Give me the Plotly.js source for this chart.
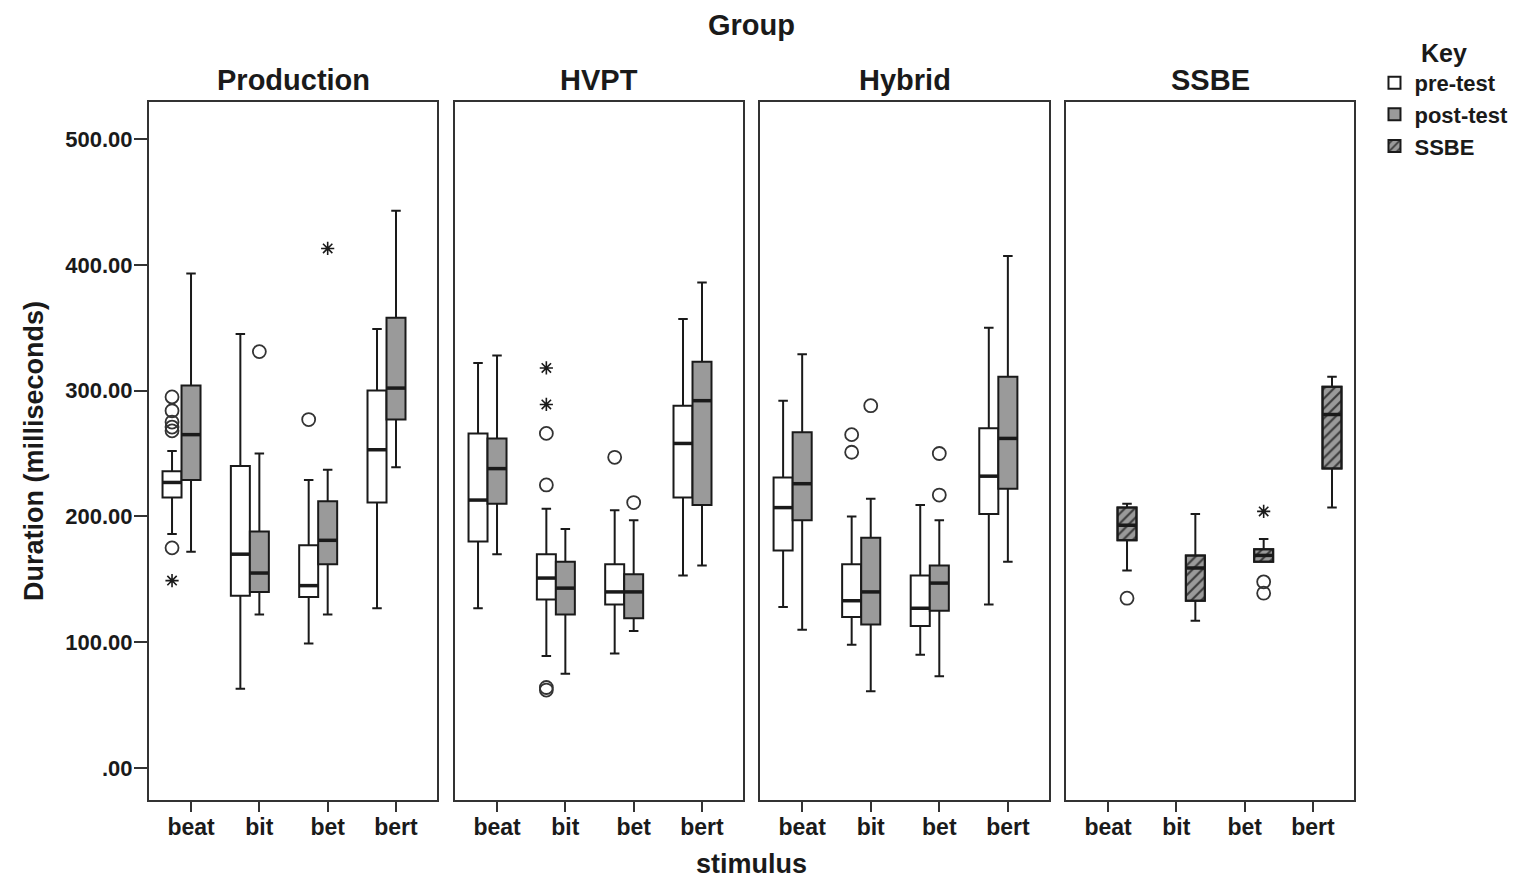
<!DOCTYPE html>
<html><head><meta charset="utf-8">
<script src="https://cdn.plot.ly/plotly-3.0.1.min.js"></script>
<style>html,body{margin:0;padding:0;background:#fff}#chart{width:1526px;height:881px}</style>
</head><body><div id="chart"></div>
<script>
const stimuli = ['beat', 'bit', 'bet', 'bert'];
const groups = ['Production', 'HVPT', 'Hybrid', 'SSBE'];
const yTickVals = [0, 100, 200, 300, 400, 500];
const yTickText = ['.00', '100.00', '200.00', '300.00', '400.00', '500.00'];

// five-number summaries per stimulus: [lower whisker, Q1, median, Q3, upper whisker]
const productionPre  = [[186, 215, 227, 236, 252], [63, 137, 170, 240, 345], [99, 136, 145, 177, 229], [127, 211, 253, 300, 349]];
const productionPost = [[172, 229, 265, 304, 393], [122, 140, 155, 188, 250], [122, 162, 181, 212, 237], [239, 277, 302, 358, 443]];
const hvptPre        = [[127, 180, 213, 266, 322], [89, 134, 151, 170, 206], [91, 130, 140, 162, 205], [153, 215, 258, 288, 357]];
const hvptPost       = [[170, 210, 238, 262, 328], [75, 122, 143, 164, 190], [109, 119, 140, 154, 197], [161, 209, 292, 323, 386]];
const hybridPre      = [[128, 173, 207, 231, 292], [98, 120, 133, 162, 200], [90, 113, 127, 153, 209], [130, 202, 232, 270, 350]];
const hybridPost     = [[110, 197, 226, 267, 329], [61, 114, 140, 183, 214], [73, 125, 147, 161, 197], [164, 222, 262, 311, 407]];
const ssbeNative     = [[157, 181, 193, 207, 210], [117, 133, 159, 169, 202], [164, 164, 169, 174, 182], [207, 238, 281, 303, 311]];

// outliers (circles) and extreme values (stars): [stimulus, value]
const productionPreCircles  = [['beat', 295], ['beat', 284], ['beat', 275], ['beat', 271], ['beat', 268], ['beat', 175], ['bet', 277]];
const productionPreStars    = [['beat', 149]];
const productionPostCircles = [['bit', 331]];
const productionPostStars   = [['bet', 413]];
const hvptPreCircles        = [['bit', 266], ['bit', 225], ['bit', 64], ['bit', 62], ['bet', 247]];
const hvptPreStars          = [['bit', 318], ['bit', 289]];
const hvptPostCircles       = [['bet', 211]];
const hybridPreCircles      = [['bit', 265], ['bit', 251]];
const hybridPostCircles     = [['bit', 288], ['bet', 250], ['bet', 217]];
const ssbeCircles           = [['beat', 135], ['bet', 148], ['bet', 139]];
const ssbeStars             = [['bet', 204]];

const FONT = 'Liberation Sans, Arial, sans-serif';
const INK = '#1a1a1a';
const FILL = {pre: '#ffffff', post: '#9a9a9a', ssbe: 'rgba(0,0,0,0)'};
const LABEL = {pre: 'pre-test', post: 'post-test', ssbe: 'SSBE'};

function ax(i) { return i === 0 ? '' : String(i + 1); }

function boxTrace(panel, grp, stats, legend) {
  return {
    type: 'box', name: LABEL[grp], showlegend: !!legend,
    xaxis: 'x' + ax(panel), yaxis: 'y' + ax(panel),
    x: stimuli,
    lowerfence: stats.map(s => s[0]), q1: stats.map(s => s[1]), median: stats.map(s => s[2]),
    q3: stats.map(s => s[3]), upperfence: stats.map(s => s[4]),
    boxpoints: false, whiskerwidth: 0.5,
    fillcolor: FILL[grp], line: {color: INK, width: 2},
    offsetgroup: grp, alignmentgroup: 'g', hoverinfo: 'y'
  };
}
// empty slot (group has no data in this panel) keeps the three-slot layout
function emptyBox(panel, grp) {
  return {type: 'box', x: ['beat'], y: [null], showlegend: false, hoverinfo: 'skip',
    xaxis: 'x' + ax(panel), yaxis: 'y' + ax(panel), offsetgroup: grp, alignmentgroup: 'g'};
}
function medianTrace(panel, grp, stats) {
  return {type: 'scatter', mode: 'markers', showlegend: false, hoverinfo: 'skip',
    xaxis: 'x' + ax(panel), yaxis: 'y' + ax(panel), x: stimuli, y: stats.map(s => s[2]),
    marker: {symbol: 'line-ew', size: 13.5, color: INK, line: {color: INK, width: 3.5}},
    offsetgroup: grp, alignmentgroup: 'g'};
}
function outlierTrace(panel, grp, pts, star) {
  return {type: 'scatter', mode: 'markers', showlegend: false,
    xaxis: 'x' + ax(panel), yaxis: 'y' + ax(panel), x: pts.map(p => p[0]), y: pts.map(p => p[1]),
    marker: star ? {symbol: 'asterisk-open', size: 11, color: INK, line: {color: INK, width: 1.6}}
                 : {symbol: 'circle-open', size: 13, color: '#333', line: {color: '#333', width: 1.8}},
    offsetgroup: grp, alignmentgroup: 'g'};
}

const data = [
  boxTrace(0, 'pre', productionPre, true), boxTrace(0, 'post', productionPost, true), emptyBox(0, 'ssbe'),
  boxTrace(1, 'pre', hvptPre), boxTrace(1, 'post', hvptPost), emptyBox(1, 'ssbe'),
  boxTrace(2, 'pre', hybridPre), boxTrace(2, 'post', hybridPost), emptyBox(2, 'ssbe'),
  emptyBox(3, 'pre'), emptyBox(3, 'post'), boxTrace(3, 'ssbe', ssbeNative),
  // hatched fill of the SSBE boxes (Q1 to Q3)
  {type: 'bar', name: 'SSBE', xaxis: 'x4', yaxis: 'y4', x: stimuli,
   base: ssbeNative.map(s => s[1]), y: ssbeNative.map(s => s[3] - s[1]),
   offsetgroup: 'ssbe', alignmentgroup: 'g', hoverinfo: 'skip',
   marker: {color: '#9a9a9a', line: {color: INK, width: 2},
            pattern: {shape: '/', bgcolor: '#9a9a9a', fgcolor: '#3a3a3a', size: 7, solidity: 0.3}}},
  medianTrace(0, 'pre', productionPre), medianTrace(0, 'post', productionPost),
  medianTrace(1, 'pre', hvptPre), medianTrace(1, 'post', hvptPost),
  medianTrace(2, 'pre', hybridPre), medianTrace(2, 'post', hybridPost),
  medianTrace(3, 'ssbe', ssbeNative),
  outlierTrace(0, 'pre', productionPreCircles), outlierTrace(0, 'pre', productionPreStars, true),
  outlierTrace(0, 'post', productionPostCircles), outlierTrace(0, 'post', productionPostStars, true),
  outlierTrace(1, 'pre', hvptPreCircles), outlierTrace(1, 'pre', hvptPreStars, true),
  outlierTrace(1, 'post', hvptPostCircles),
  outlierTrace(2, 'pre', hybridPreCircles), outlierTrace(2, 'post', hybridPostCircles),
  outlierTrace(3, 'ssbe', ssbeCircles), outlierTrace(3, 'ssbe', ssbeStars, true)
];

const W = 1205;
const domains = [[0, 288 / W], [306 / W, 594 / W], [611 / W, 900 / W], [917 / W, 1]];
const layout = {
  width: 1526, height: 881,
  margin: {l: 149, r: 172, t: 102, b: 81},
  paper_bgcolor: '#fff', plot_bgcolor: '#fff',
  font: {family: FONT, color: INK, weight: 'bold'},
  boxmode: 'group', boxgap: 0.166, boxgroupgap: 0,
  barmode: 'group', bargap: 0.166, bargroupgap: 0,
  scattermode: 'group', scattergap: 0.166,
  showlegend: true,
  legend: {x: 1.017, xanchor: 'left', y: 1.104, yanchor: 'top', bgcolor: 'rgba(0,0,0,0)',
    font: {family: FONT, size: 22, weight: 'bold', color: INK}, tracegroupgap: 0,
    title: {text: 'Key', side: 'top center', font: {family: FONT, size: 25, weight: 'bold', color: INK}}},
  annotations: [
    {text: 'Group', xref: 'paper', yref: 'paper', x: 0.5, y: 1.1103, yanchor: 'middle', showarrow: false,
     font: {family: FONT, size: 29, weight: 'bold', color: INK}},
    {text: 'stimulus', xref: 'paper', yref: 'paper', x: 0.5, y: -0.1155, yanchor: 'bottom', showarrow: false,
     font: {family: FONT, size: 27, weight: 'bold', color: INK}}
  ]
};
groups.forEach((g, i) => {
  layout['xaxis' + ax(i)] = {
    domain: domains[i], anchor: 'y' + ax(i), type: 'category', categoryorder: 'array', categoryarray: stimuli,
    range: [-0.615, 3.6], showline: true, mirror: true, linecolor: '#333', linewidth: 2,
    ticks: 'outside', ticklen: 10, tickwidth: 2, tickcolor: '#333', showgrid: false, zeroline: false,
    ticklabelstandoff: -5,
    tickfont: {family: FONT, size: 23, weight: 'bold', color: INK}, fixedrange: true
  };
  layout['yaxis' + ax(i)] = {
    anchor: 'x' + ax(i), range: [-25.4, 529.4], showline: true, mirror: true, linecolor: '#333', linewidth: 2,
    showgrid: false, zeroline: false, fixedrange: true,
    tickvals: yTickVals, ticktext: yTickText,
    ticks: i === 0 ? 'outside' : '', ticklen: 13, tickwidth: 2, tickcolor: '#333',
    showticklabels: i === 0, ticklabelstandoff: -3,
    tickfont: {family: FONT, size: 22, weight: 'bold', color: INK},
    title: i === 0 ? {text: 'Duration (milliseconds)', standoff: 14,
                      font: {family: FONT, size: 27, weight: 'bold', color: INK}} : {text: ''}
  };
  layout.annotations.push({text: g, xref: 'x' + ax(i) + ' domain', yref: 'paper', x: 0.5, y: 1.0315,
    yanchor: 'middle', showarrow: false, font: {family: FONT, size: 29, weight: 'bold', color: INK}});
});

Plotly.newPlot('chart', data, layout, {displayModeBar: false, staticPlot: true});
</script>
</body></html>
